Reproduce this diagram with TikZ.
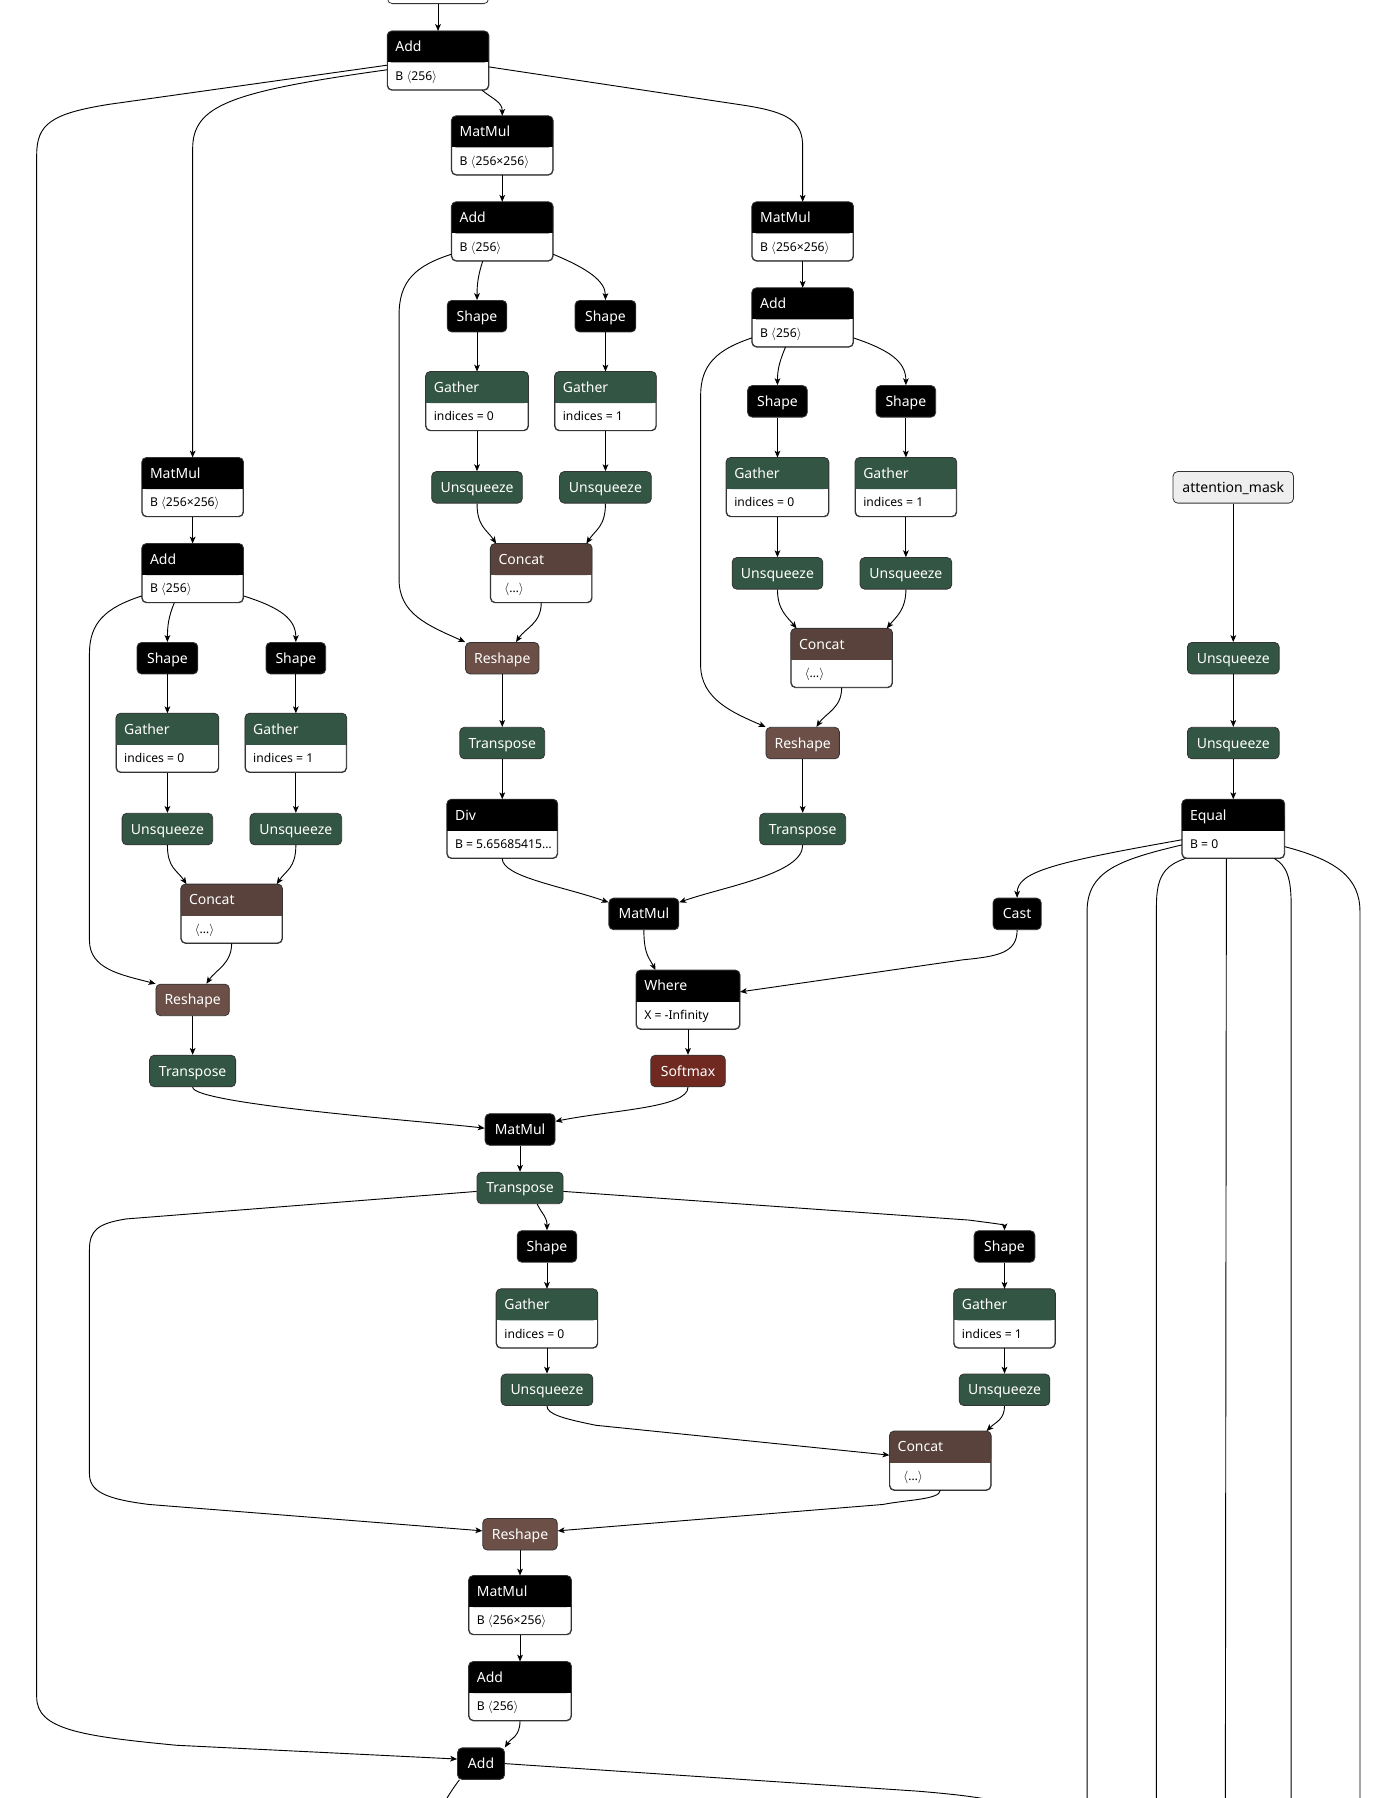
\documentclass[tikz,border=0pt]{standalone}
\usepackage{fontspec}
\setmainfont{Noto Sans}
\usetikzlibrary{arrows.meta}
\definecolor{cgreen}{HTML}{335544}
\definecolor{ccat}{HTML}{59423B}
\definecolor{cres}{HTML}{6C4F47}
\definecolor{csoft}{HTML}{702921}
\definecolor{cin}{HTML}{EEEEEE}
\definecolor{cbord}{HTML}{333333}
\newcommand\hfnt{\fontsize{12.2}{14}\selectfont}
\newcommand\afnt{\fontsize{10.6}{12}\selectfont}
\newcommand\lbr{$\langle$}
\newcommand\rbr{$\rangle$}
% two-row operator node: name, cx, top, width, colour, title, attribute
\newcommand\twonode[7]{%
  \node[box2, minimum width=#4pt, anchor=north] (#1) at (#2,#3) {};
  \fill[#5, rounded corners=4pt] (#1.north west) rectangle ([yshift=-27.5pt]#1.north east);
  \fill[#5] ([yshift=-14pt]#1.north west) rectangle ([yshift=-27.5pt]#1.north east);
  \draw[cbord, line width=0.7pt, rounded corners=4pt] (#1.north west) rectangle (#1.south east);
  \node[htxt] (#1-t) at ([xshift=7pt,yshift=-18.2pt]#1.north west) {#6};
  \node[atxt] (#1-a) at ([xshift=7pt,yshift=-43pt]#1.north west) {#7};
}
\begin{document}
\begin{tikzpicture}[x=1pt,y=-1pt,
  sn/.style={draw=cbord, line width=0.7pt, rounded corners=4pt, inner sep=0pt,
    minimum height=27.5pt, text=white, font=\hfnt, text height=8.7pt, text depth=0pt},
  blk/.style={sn, fill=black},
  grn/.style={sn, fill=cgreen},
  rsh/.style={sn, fill=cres},
  smx/.style={sn, fill=csoft},
  inp/.style={sn, fill=cin, text=black},
  box2/.style={draw=cbord, line width=0.7pt, rounded corners=4pt, fill=white,
    inner sep=0pt, minimum height=51pt},
  htxt/.style={text=white, font=\hfnt, inner sep=0pt, anchor=base west},
  atxt/.style={text=black, font=\afnt, inner sep=0pt, anchor=base west},
  arr/.style={line width=0.8pt, -{Stealth[length=6pt,width=5pt,inset=1.5pt]}},
  ln/.style={line width=0.8pt}]
\useasboundingbox (0,0) rectangle (1209,1568);
\fill[white] (0,0) rectangle (1209,1568);

% ---------- nodes ----------
\node[draw=cbord, line width=0.7pt, rounded corners=4pt, fill=white, minimum width=88pt,
  minimum height=30pt, inner sep=0pt, anchor=south] (prev) at (382,3.5) {};
\twonode{add1}{382}{27}{88}{black}{Add}{\textbf{B} \lbr256\rbr}
\twonode{mmQ}{438}{101}{88}{black}{MatMul}{\textbf{B} \lbr256×256\rbr}
\twonode{addQ}{438}{176}{88}{black}{Add}{\textbf{B} \lbr256\rbr}
\twonode{mmK}{700}{176}{88}{black}{MatMul}{\textbf{B} \lbr256×256\rbr}
\twonode{addK}{700}{251}{88}{black}{Add}{\textbf{B} \lbr256\rbr}
\twonode{gaQ0}{416}{324}{89}{cgreen}{Gather}{indices = 0}
\twonode{gaQ1}{528}{324}{88}{cgreen}{Gather}{indices = 1}
\twonode{gaK0}{678}{399}{89}{cgreen}{Gather}{indices = 0}
\twonode{gaK1}{790}{399}{88}{cgreen}{Gather}{indices = 1}
\twonode{mmV}{168}{399}{88}{black}{MatMul}{\textbf{B} \lbr256×256\rbr}
\twonode{addV}{168}{474}{88}{black}{Add}{\textbf{B} \lbr256\rbr}
\twonode{ccQ}{472}{474}{88}{ccat}{Concat}{\hspace{5pt}\lbr…\rbr}
\twonode{ccK}{734}{548}{88}{ccat}{Concat}{\hspace{5pt}\lbr…\rbr}
\twonode{gaV0}{146}{622}{89}{cgreen}{Gather}{indices = 0}
\twonode{gaV1}{258}{622}{88}{cgreen}{Gather}{indices = 1}
\twonode{div}{438}{697}{96}{black}{Div}{B = 5.65685415…}
\twonode{equal}{1075.5}{697}{89}{black}{Equal}{B = 0}
\twonode{ccV}{202}{771}{88}{ccat}{Concat}{\hspace{5pt}\lbr…\rbr}
\twonode{where}{600}{846}{90}{black}{Where}{X = -Infinity}
\twonode{gaL0}{477}{1124}{88}{cgreen}{Gather}{indices = 0}
\twonode{gaL1}{876}{1124}{88}{cgreen}{Gather}{indices = 1}
\twonode{ccL}{820}{1248}{88}{ccat}{Concat}{\hspace{5pt}\lbr…\rbr}
\twonode{mmLL}{453.5}{1374}{89}{black}{MatMul}{\textbf{B} \lbr256×256\rbr}
\twonode{addL}{453.5}{1449}{89}{black}{Add}{\textbf{B} \lbr256\rbr}

\node[blk, minimum width=52pt] (shQ0) at (416,275.75) {Shape};
\node[blk, minimum width=53pt] (shQ1) at (528,275.75) {Shape};
\node[grn, minimum width=79pt] (unQ0) at (416,425) {Unsqueeze};
\node[grn, minimum width=80pt] (unQ1) at (528,425) {Unsqueeze};
\node[rsh, minimum width=64pt] (rsQ) at (438,574) {Reshape};
\node[grn, minimum width=74pt] (trQ) at (438,648) {Transpose};
\node[blk, minimum width=52pt] (shK0) at (678,350) {Shape};
\node[blk, minimum width=52pt] (shK1) at (790,350) {Shape};
\node[grn, minimum width=79pt] (unK0) at (678,500) {Unsqueeze};
\node[grn, minimum width=80pt] (unK1) at (790,500) {Unsqueeze};
\node[rsh, minimum width=64pt] (rsK) at (700,648) {Reshape};
\node[grn, minimum width=75pt] (trK) at (700,723) {Transpose};
\node[blk, minimum width=53pt] (shV0) at (146,574) {Shape};
\node[blk, minimum width=52pt] (shV1) at (258,574) {Shape};
\node[grn, minimum width=79pt] (unV0) at (146,723) {Unsqueeze};
\node[grn, minimum width=80pt] (unV1) at (258,723) {Unsqueeze};
\node[rsh, minimum width=64pt] (rsV) at (168,872) {Reshape};
\node[grn, minimum width=75pt] (trV) at (168,934) {Transpose};
\node[blk, minimum width=61pt] (mmC) at (561.5,797) {MatMul};
\node[blk, minimum width=42pt] (cast) at (887,797) {Cast};
\node[smx, minimum width=65pt] (softmax) at (600,934) {Softmax};
\node[blk, minimum width=61pt] (mmL) at (453.5,985) {MatMul};
\node[grn, minimum width=75pt] (trL) at (453.5,1036) {Transpose};
\node[blk, minimum width=52pt] (shL0) at (477,1087) {Shape};
\node[blk, minimum width=53pt] (shL1) at (876,1087) {Shape};
\node[grn, minimum width=80pt] (unL0) at (477,1212) {Unsqueeze};
\node[grn, minimum width=79pt] (unL1) at (876,1212) {Unsqueeze};
\node[rsh, minimum width=65pt] (rsL) at (453.5,1338) {Reshape};
\node[blk, minimum width=41pt] (addF) at (419.5,1538) {Add};
\node[inp, minimum width=105pt] (am) at (1075.5,425) {attention\_mask};
\node[grn, minimum width=80pt] (unM0) at (1075.5,574) {Unsqueeze};
\node[grn, minimum width=80pt] (unM1) at (1075.5,648) {Unsqueeze};

\coordinate (outA) at (384,1582);
\coordinate (outB) at (910,1585);
\coordinate (outC) at (948,1580);
\coordinate (outD) at (1008.5,1580);
\coordinate (outE) at (1068.6,1580);
\coordinate (outF) at (1126,1580);
\coordinate (outG) at (1186,1580);

% ---------- connectors ----------
\draw[arr] (prev.south) -- (add1.north);
\draw[arr] ([xshift=-6pt]add1.south east) .. controls +(10,8) and +(0,-12) .. (mmQ.north);
\draw[arr] ([yshift=-5.5pt]add1.east) -- (650,92) .. controls (688,98) and (700,106) .. (700,128) -- (mmK.north);
\draw[arr] ([yshift=-8pt]add1.west) .. controls (200,80) and (168,92) .. (168,130) -- (mmV.north);
\draw[arr] ([yshift=-4pt]add1.west) -- (95,91) .. controls (45,99) and (32,108) .. (32,135) -- (32,1480)
  .. controls (32,1508) and (70,1514) .. (154,1522) -- ([yshift=4pt]addF.west);

% query branch
\draw[arr] (mmQ.south) -- (addQ.north);
\draw[arr] ([xshift=-17pt]addQ.south) .. controls +(-4,12) and +(0,-14) .. (shQ0.north);
\draw[arr] ([yshift=6pt]addQ.south east) .. controls (512,234) and (528,245) .. (shQ1.north);
\draw[arr] ([yshift=6pt]addQ.south west) .. controls (362,232) and (348,245) .. (348,275) -- (348,505)
  .. controls (348,535) and (372,545) .. (rsQ.north west);
\draw[arr] (unQ0.south) .. controls +(0,20) and +(-8,-12) .. ([xshift=5pt]ccQ.north west);
\draw[arr] (unQ1.south) .. controls +(0,20) and +(8,-12) .. ([xshift=-5pt]ccQ.north east);
\draw[arr] (ccQ.south) .. controls +(0,18) and +(8,-12) .. ([xshift=12pt]rsQ.north);
\draw[arr] (rsQ.south) -- (trQ.north);
\draw[arr] (trQ.south) -- (div.north);
\draw[arr] (div.south) .. controls +(0,16) and +(-40,-14) .. ([yshift=-4pt]mmC.north west);

% key branch
\draw[arr] (mmK.south) -- (addK.north);
\draw[arr] ([xshift=-15pt]addK.south) .. controls +(-5,12) and +(0,-14) .. (shK0.north);
\draw[arr] ([yshift=8pt]addK.south east) .. controls (775,305) and (790,315) .. (shK1.north);
\draw[arr] ([yshift=8pt]addK.south west) .. controls (625,305) and (611,318) .. (611,345) -- (611,580)
  .. controls (611,610) and (640,622) .. (rsK.north west);
\draw[arr] (unK0.south) .. controls +(0,18) and +(-8,-10) .. ([xshift=5pt]ccK.north west);
\draw[arr] (unK1.south) .. controls +(0,18) and +(8,-10) .. ([xshift=-5pt]ccK.north east);
\draw[arr] (ccK.south) .. controls +(0,18) and +(8,-12) .. ([xshift=12pt]rsK.north);
\draw[arr] (rsK.south) -- (trK.north);
\draw[arr] (trK.south) .. controls +(0,25) and +(40,-14) .. ([yshift=-4pt]mmC.north east);

% value branch
\draw[arr] (mmV.south) -- (addV.north);
\draw[arr] ([xshift=-16pt]addV.south) .. controls +(-5,12) and +(0,-14) .. (shV0.north);
\draw[arr] ([yshift=6pt]addV.south east) .. controls (245,530) and (258,540) .. (shV1.north);
\draw[arr] ([yshift=6pt]addV.south west) .. controls (92,530) and (78,543) .. (78,570) -- (78,820)
  .. controls (78,845) and (105,850) .. (rsV.north west);
\draw[arr] (unV0.south) .. controls +(0,20) and +(-8,-12) .. ([xshift=5pt]ccV.north west);
\draw[arr] (unV1.south) .. controls +(0,20) and +(8,-12) .. ([xshift=-5pt]ccV.north east);
\draw[arr] (ccV.south) .. controls +(0,18) and +(8,-12) .. ([xshift=12pt]rsV.north);
\draw[arr] (rsV.south) -- (trV.north);
\draw[arr] (trV.south) .. controls +(0,15) and +(-40,-5) .. ([yshift=-13pt]mmL.north west);

\foreach \a/\b in {shQ0/gaQ0,gaQ0/unQ0,shQ1/gaQ1,gaQ1/unQ1,shK0/gaK0,gaK0/unK0,shK1/gaK1,gaK1/unK1,
  shV0/gaV0,gaV0/unV0,shV1/gaV1,gaV1/unV1,shL0/gaL0,gaL0/unL0,shL1/gaL1,gaL1/unL1}
  \draw[arr] (\a.south) -- (\b.north);

% attention scores
\draw[arr] (mmC.south) .. controls +(0,22) and +(-5,-10) .. ([xshift=17pt]where.north west);
\draw[arr] (cast.south) .. controls +(0,20) and +(30,-3) .. (840,837) -- ([yshift=-19pt]where.north east);
\draw[arr] (where.south) -- (softmax.north);
\draw[arr] (softmax.south) .. controls +(0,18) and +(50,-10) .. ([yshift=-7pt]mmL.north east);
\draw[arr] (mmL.south) -- (trL.north);
\draw[arr] ([xshift=15pt]trL.south) .. controls +(5,10) and +(0,-12) .. (shL0.north);
\draw[arr] ([yshift=-3pt]trL.east) -- (845,1064) .. controls (868,1067) and (876,1068) .. (shL1.north);
\draw[arr] ([yshift=-3pt]trL.west) -- (110,1063) .. controls (85,1067) and (78,1073) .. (78,1090) -- (78,1285)
  .. controls (78,1300) and (90,1307) .. (130,1312) -- ([yshift=3pt]rsL.west);
\draw[arr] (unL0.south) .. controls (477,1233) and (490,1237) .. (520,1243) -- ([yshift=-21pt]ccL.north west);
\draw[arr] (unL1.south) .. controls +(0,12) and +(8,-8) .. ([xshift=-4pt]ccL.north east);
\draw[arr] (ccL.south) .. controls +(0,8) and +(20,-4) .. (770,1312) -- ([yshift=3pt]rsL.east);
\draw[arr] (rsL.south) -- (mmLL.north);
\draw[arr] (mmLL.south) -- (addL.north);
\draw[arr] (addL.south) .. controls +(0,14) and +(5,-8) .. (addF.north east);
\draw[ln] ([xshift=2pt]addF.south west) .. controls +(-6,8) and +(1,-8) .. (outA);
\draw[ln] (addF.east) -- (800,1562) .. controls (860,1567) and (880,1571) .. (outB);

% mask branch
\draw[arr] (am.south) -- (unM0.north);
\draw[arr] (unM0.south) -- (unM1.north);
\draw[arr] (unM1.south) -- (equal.north);
\draw[arr] ([yshift=-9.5pt]equal.west) .. controls (920,752) and (887,760) .. (cast.north);
\draw[ln] ([yshift=-14pt]equal.west) .. controls (975,750) and (948,760) .. (948,795) -- (outC);
\draw[ln] ([xshift=3pt]equal.south west) .. controls (1015,755) and (1008.5,765) .. (1008.5,790) -- (outD);
\draw[ln] ([xshift=-6pt]equal.south) -- (outE);
\draw[ln] ([xshift=-9pt]equal.south east) .. controls (1122,755) and (1126,765) .. (1126,790) -- (outF);
\draw[ln] ([yshift=-15.5pt]equal.east) .. controls (1165,750) and (1186,765) .. (1186,795) -- (outG);
\end{tikzpicture}
\end{document}
